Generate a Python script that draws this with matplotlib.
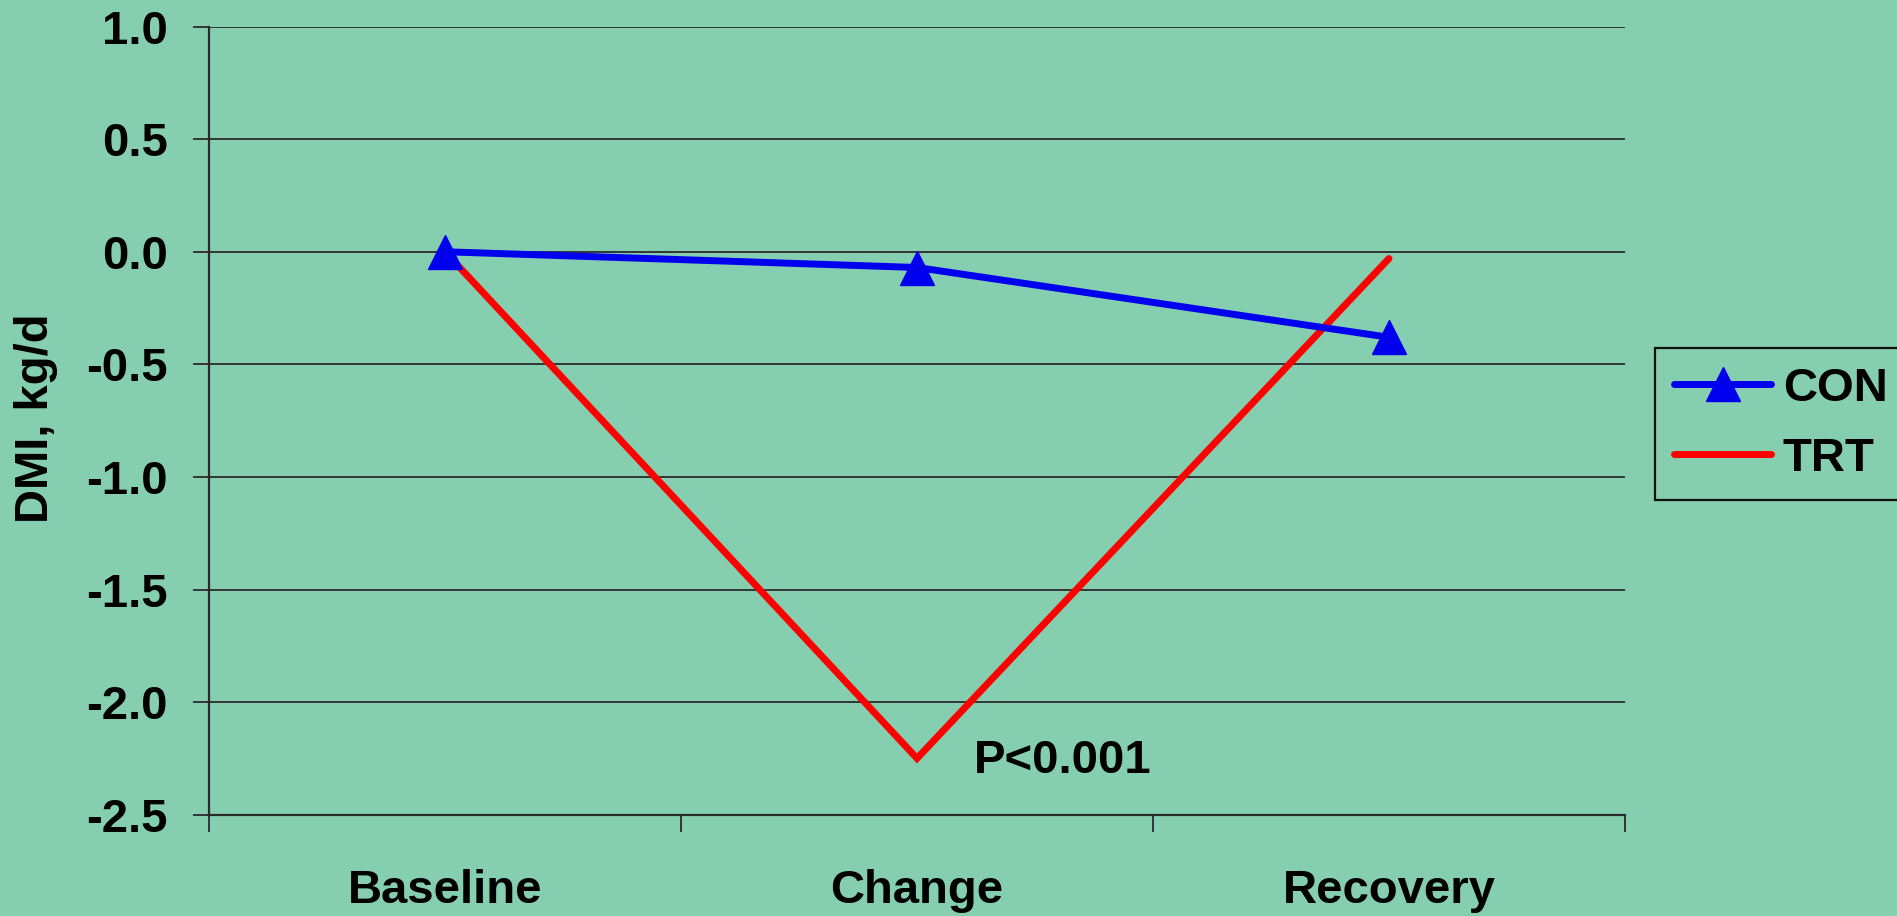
import matplotlib
matplotlib.use("Agg")
import matplotlib.pyplot as plt
from matplotlib.ticker import FixedLocator, NullFormatter, FixedFormatter

# Dry matter intake change by period
periods = ["Baseline", "Change", "Recovery"]
con_values = [0.0, -0.07, -0.38]
trt_values = [0.0, -2.25, -0.03]
y_ticks = [1.0, 0.5, 0.0, -0.5, -1.0, -1.5, -2.0, -2.5]
y_tick_labels = ["1.0", "0.5", "0.0", "-0.5", "-1.0", "-1.5", "-2.0", "-2.5"]
p_label = "P<0.001"

BG = "#85CEB0"
GRID = "#2a2a2a"
FONT = "Liberation Sans"

plt.rcParams["font.family"] = [FONT, "DejaVu Sans"]
plt.rcParams["font.weight"] = "bold"

fig = plt.figure(figsize=(18.97, 9.16), dpi=100, facecolor=BG)
ax = fig.add_axes([0.1102, 0.1106, 0.7464, 0.8604])
ax.set_facecolor(BG)

x = list(range(len(periods)))
ax.plot(x, trt_values, color="#FF0000", lw=5, solid_capstyle="round",
        solid_joinstyle="miter", label="TRT", zorder=3)
ax.plot(x, con_values, color="#0000EE", lw=5, marker="^", ms=24,
        solid_capstyle="round", label="CON", zorder=4)

ax.set_xlim(-0.5, len(periods) - 0.5)
ax.set_ylim(-2.5, 1.0)

# Category boundaries carry tick marks; names sit between them
ax.xaxis.set_major_locator(FixedLocator([i - 0.5 for i in range(len(periods) + 1)]))
ax.xaxis.set_major_formatter(NullFormatter())
ax.xaxis.set_minor_locator(FixedLocator(x))
ax.xaxis.set_minor_formatter(FixedFormatter(periods))
ax.tick_params(axis="x", which="major", direction="out", length=12.5, width=1.3, color=GRID)
ax.tick_params(axis="x", which="minor", length=0, pad=39, labelsize=34)

ax.yaxis.set_major_locator(FixedLocator(y_ticks))
ax.yaxis.set_major_formatter(FixedFormatter(y_tick_labels))
ax.tick_params(axis="y", direction="out", length=11.5, width=1.3, color=GRID,
               pad=18, labelsize=34)

ax.grid(axis="y", color=GRID, lw=1.3)
ax.set_axisbelow(True)
for side in ("top", "right"):
    ax.spines[side].set_visible(False)
for side in ("left", "bottom"):
    ax.spines[side].set_color(GRID)
    ax.spines[side].set_linewidth(1.6)

ax.set_ylabel("DMI, kg/d", fontsize=34, fontweight="bold", va="center")
ax.yaxis.set_label_coords(-0.122, 0.503)

ax.text(1.12, trt_values[1] - 0.01, p_label, fontsize=34, fontweight="bold",
        ha="left", va="center")

handles, labels = ax.get_legend_handles_labels()
order = [labels.index("CON"), labels.index("TRT")]
leg = fig.legend([handles[i] for i in order], [labels[i] for i in order],
                 loc="upper left", bbox_to_anchor=(1655 / 1897, 1 - 348 / 916),
                 bbox_transform=fig.transFigure, borderaxespad=0,
                 fontsize=34, frameon=True, fancybox=False, facecolor=BG,
                 edgecolor="#111111", framealpha=1, handlelength=2.06,
                 handletextpad=0.25, borderpad=0.4, labelspacing=0.55,
                 numpoints=1)
leg.get_frame().set_linewidth(1.6)
for t in leg.get_texts():
    t.set_fontweight("bold")

fig.savefig("out.png", dpi=100, facecolor=BG)
